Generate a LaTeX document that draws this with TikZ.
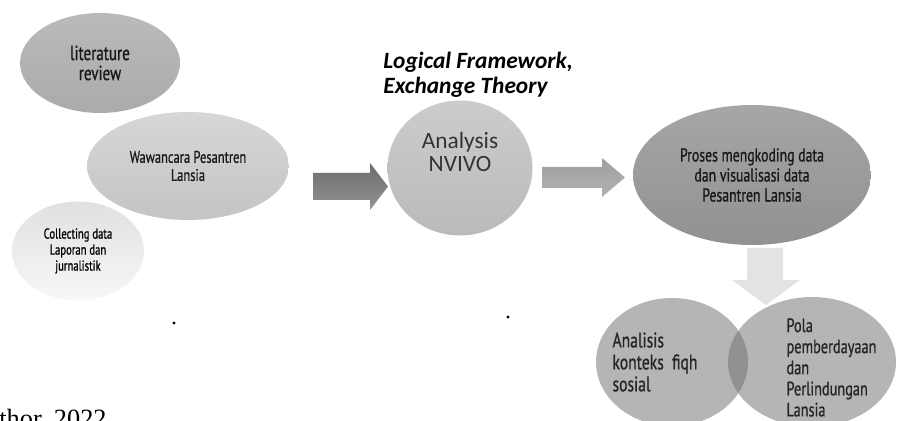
\documentclass[tikz,border=0pt]{standalone}
\usepackage{fontspec}
\setmainfont{Carlito}
\newfontfamily\agency[FakeStretch=0.74, FakeBold=0.8]{PT Sans}
\newfontfamily\timesfont{Liberation Serif}
\usetikzlibrary{shapes.geometric}

\begin{document}
\begin{tikzpicture}[
    x=0.02cm, y=-0.02cm,
    bubble/.style={ellipse, inner sep=0pt, align=center, text=black!90},
    lit_txt/.style={font=\agency\fontsize{11.6}{11.4}\selectfont},
    waw_txt/.style={font=\agency\fontsize{9.6}{10.3}\selectfont},
    col_txt/.style={font=\agency\fontsize{8.2}{9.1}\selectfont},
    pro_txt/.style={font=\agency\fontsize{10.6}{11.4}\selectfont},
    big_txt/.style={font=\fontsize{13.3}{13.2}\selectfont, text=black!80},
    block/.style={draw=none}
]
    \useasboundingbox (0,0) rectangle (897,421);
    \clip (0,0) rectangle (897,421);
    \fill[white] (0,0) rectangle (897,421);

    \node[bubble, lit_txt, top color=black!27, bottom color=black!33,
          minimum width=3.2cm, minimum height=2.0cm] (lit) at (100,63) {literature\\review};
    \node[bubble, waw_txt, top color=black!16, bottom color=black!23,
          minimum width=4.04cm, minimum height=2.16cm] (waw) at (188,166) {Wawancara Pesantren\\Lansia};
    \node[bubble, col_txt, text=black, top color=black!12, bottom color=black!3,
          minimum width=2.64cm, minimum height=1.98cm] (col) at (78,251) {Collecting data\\Laporan dan\\jurnalistik};

    \node[anchor=west, align=left, inner sep=0pt, font=\bfseries\itshape\fontsize{13.3}{14.2}\selectfont] (frame) at (383,75) {Logical Framework,\\Exchange Theory};
    \node[bubble, top color=black!20, bottom color=black!27,
          minimum width=2.9cm, minimum height=2.7cm,
          label={[big_txt, align=center, yshift=0.32cm]center:Analysis\\NVIVO}] (nvivo) at (460,168) {};

    \node[bubble, pro_txt, top color=black!35, bottom color=black!43,
          minimum width=4.76cm, minimum height=2.8cm] (kode) at (752,175) {Proses mengkoding data\\dan visualisasi data\\Pesantren Lansia};

    \node[bubble, fill=black!29, minimum width=3.04cm, minimum height=2.56cm,
          label={[align=left, text=black!85, xshift=-0.34cm, font=\agency\fontsize{12}{12.5}\selectfont]center:Analisis\\konteks~~fiqh\\sosial}] (fiqh) at (672,362) {};
    \node[bubble, fill=black!29, minimum width=3.36cm, minimum height=2.6cm,
          path picture={\fill[black!43] (fiqh.center) ellipse [x radius=1.52cm, y radius=1.28cm];},
          label={[align=left, text=black!85, xshift=0.39cm, yshift=-0.11cm, font=\agency\fontsize{11}{12}\selectfont]center:Pola\\pemberdayaan\\dan\\Perlindungan\\Lansia}] (pola) at (812,362) {};

    % block arrows
    \shade[block, top color=black!58, bottom color=black!42] (313,173) -- (370,173) -- (370,163) -- (388,186.5) -- (370,210) -- (370,200) -- (313,200) -- cycle;
    \shade[block, top color=black!38, bottom color=black!30] (542,167) -- (602,167) -- (602,158) -- (625,177.5) -- (602,197) -- (602,188) -- (542,188) -- cycle;
    \fill[black!11] (747,248) -- (783,248) -- (783,280) -- (800,280) -- (766,305) -- (732,280) -- (747,280) -- cycle;

    \fill (174,323) circle [radius=1.6];
    \fill (508,317) circle [radius=1.6];

    \node[anchor=base west, inner sep=0pt, font=\timesfont\fontsize{15}{15}\selectfont] (src) at (-1,428) {thor, 2022};
\end{tikzpicture}
\end{document}
